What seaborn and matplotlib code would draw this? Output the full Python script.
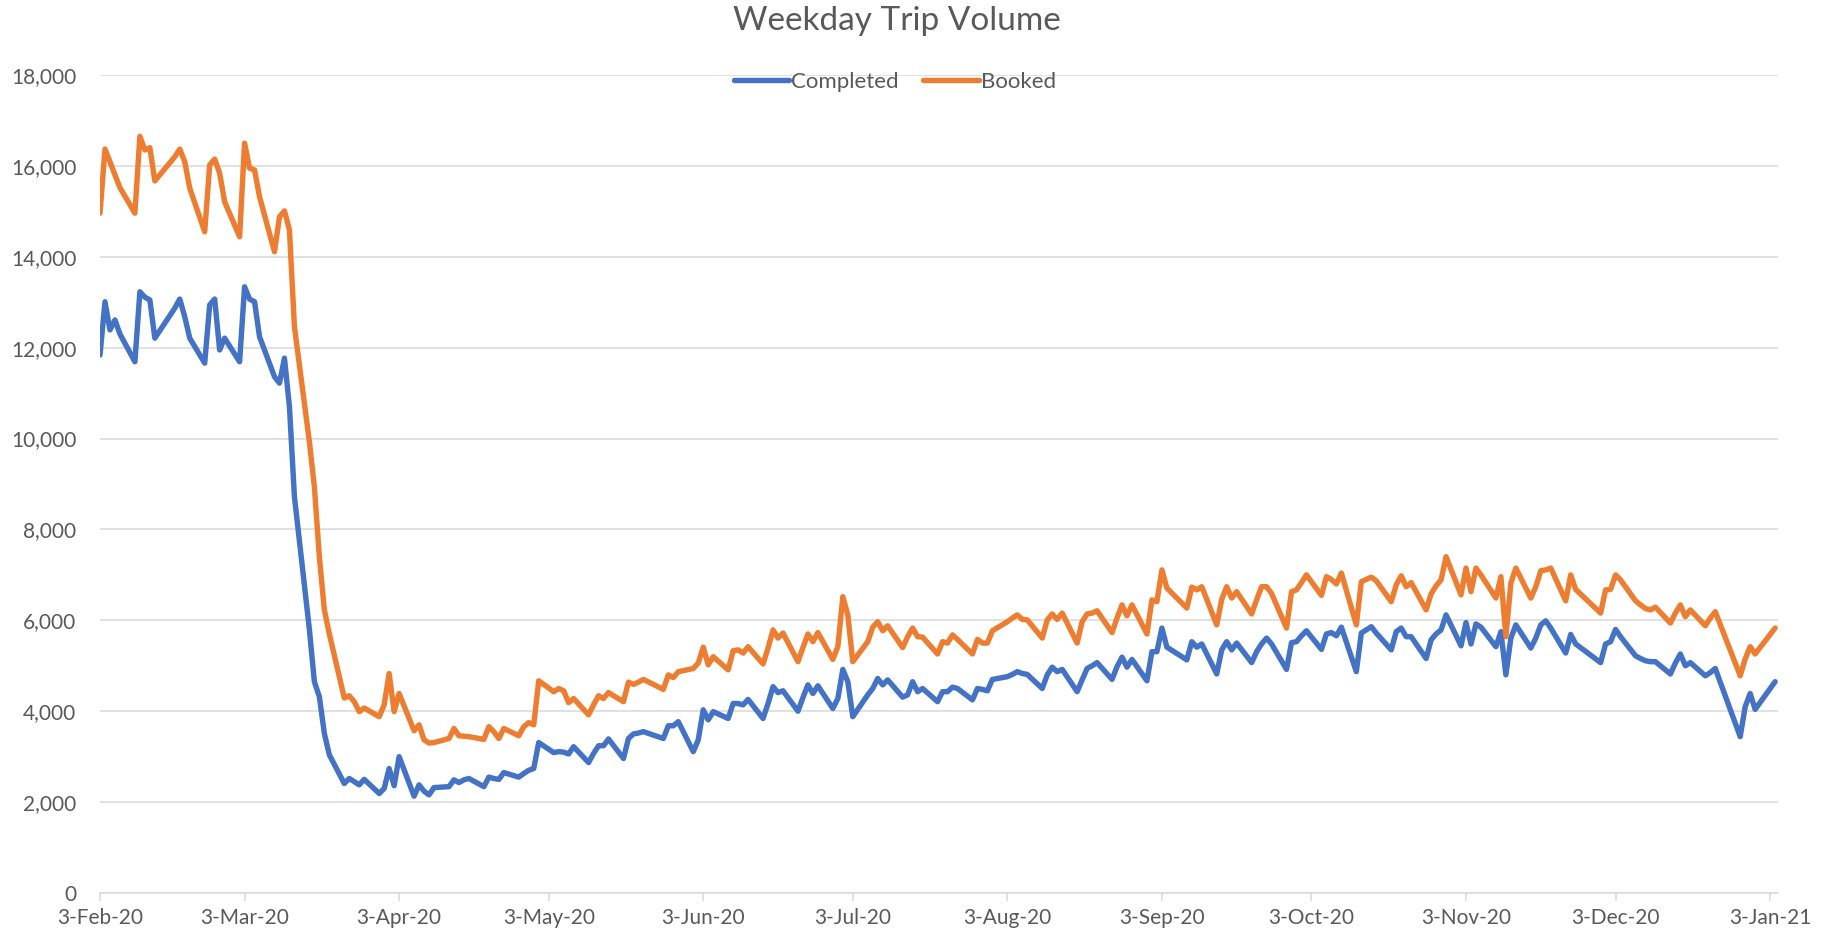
import pandas as pd
import matplotlib
matplotlib.use("Agg")
import matplotlib.pyplot as plt
import matplotlib.dates as mdates
from matplotlib.ticker import FuncFormatter, MultipleLocator
import seaborn as sns

# weekdays from 3-Feb-20 to 4-Jan-21, days with no data left out
holidays = ["2020-02-17", "2020-05-25", "2020-09-07", "2020-11-26", "2020-11-27",
            "2020-12-24", "2020-12-25", "2021-01-01"]
dates = pd.bdate_range("2020-02-03", "2021-01-04").drop(pd.to_datetime(holidays))

# values, one row per week
completed = [
    11840, 13010, 12390, 12610, 12300,   # Feb 3
    11690, 13230, 13110, 13050, 12210,   # Feb 10
    12870, 13070, 12680, 12210,          # Feb 18
    11660, 12940, 13070, 11950, 12210,   # Feb 24
    11690, 13340, 13070, 13010, 12240,   # Mar 2
    11360, 11220, 11770, 10700, 8720,    # Mar 9
    5800, 4650, 4320, 3510, 3040,        # Mar 16
    2410, 2520, 2450, 2380, 2500,        # Mar 23
    2190, 2300, 2740, 2360, 3000,        # Mar 30
    2130, 2380, 2240, 2160, 2320,        # Apr 6
    2340, 2490, 2430, 2490, 2520,        # Apr 13
    2340, 2550, 2520, 2500, 2650,        # Apr 20
    2550, 2630, 2700, 2740, 3310,        # Apr 27
    3090, 3110, 3100, 3060, 3220,        # May 4
    2870, 3070, 3240, 3240, 3390,        # May 11
    2960, 3400, 3500, 3520, 3550,        # May 18
    3400, 3680, 3680, 3770,              # May 26
    3110, 3370, 4030, 3810, 3990,        # Jun 1
    3840, 4170, 4170, 4140, 4260,        # Jun 8
    3840, 4170, 4540, 4410, 4450,        # Jun 15
    4000, 4300, 4580, 4390, 4560,        # Jun 22
    4060, 4280, 4920, 4650, 3880,        # Jun 29
    4360, 4500, 4720, 4580, 4690,        # Jul 6
    4310, 4360, 4650, 4430, 4500,        # Jul 13
    4210, 4430, 4430, 4530, 4500,        # Jul 20
    4250, 4500, 4480, 4450, 4700,        # Jul 27
    4760, 4810, 4870, 4830, 4810,        # Aug 3
    4500, 4800, 4970, 4870, 4920,        # Aug 10
    4430, 4690, 4940, 5000, 5070,        # Aug 17
    4700, 4980, 5190, 4970, 5140,        # Aug 24
    4670, 5310, 5310, 5830, 5410,        # Aug 31
    5130, 5530, 5410, 5480,              # Sep 8
    4820, 5350, 5530, 5350, 5500,        # Sep 14
    5070, 5310, 5480, 5610, 5480,        # Sep 21
    4920, 5510, 5530, 5660, 5770,        # Sep 28
    5360, 5700, 5730, 5660, 5850,        # Oct 5
    4870, 5720, 5790, 5860, 5720,        # Oct 12
    5350, 5750, 5830, 5640, 5640,        # Oct 19
    5160, 5570, 5700, 5790, 6120,        # Oct 26
    5440, 5950, 5480, 5920, 5850,        # Nov 2
    5420, 5750, 4800, 5610, 5900,        # Nov 9
    5390, 5610, 5900, 5990, 5830,        # Nov 16
    5280, 5690, 5480,                    # Nov 23
    5070, 5480, 5530, 5800, 5640,        # Nov 30
    5220, 5160, 5110, 5090, 5090,        # Dec 7
    4820, 5060, 5260, 5000, 5070,        # Dec 14
    4780, 4850, 4940,                    # Dec 21
    3440, 4100, 4390, 4040,              # Dec 28
    4650,                                # Jan 4
]
booked = [
    14960, 16370, 16090, 15800, 15520,   # Feb 3
    14960, 16650, 16350, 16400, 15670,   # Feb 10
    16200, 16370, 16090, 15510,          # Feb 18
    14550, 16020, 16150, 15840, 15210,   # Feb 24
    14440, 16500, 15950, 15910, 15320,   # Mar 2
    14110, 14880, 15010, 14590, 12460,   # Mar 9
    9930, 8940, 7400, 6230, 5700,        # Mar 16
    4290, 4340, 4210, 3990, 4070,        # Mar 23
    3880, 4140, 4830, 3990, 4390,        # Mar 30
    3570, 3700, 3370, 3300, 3310,        # Apr 6
    3400, 3620, 3460, 3450, 3440,        # Apr 13
    3380, 3660, 3550, 3400, 3620,        # Apr 20
    3460, 3660, 3750, 3700, 4670,        # Apr 27
    4430, 4500, 4450, 4190, 4280,        # May 4
    3920, 4140, 4340, 4280, 4410,        # May 11
    4210, 4640, 4590, 4640, 4700,        # May 18
    4480, 4800, 4740, 4870,              # May 26
    4940, 5060, 5410, 5020, 5200,        # Jun 1
    4910, 5330, 5350, 5280, 5420,        # Jun 8
    5040, 5390, 5790, 5610, 5720,        # Jun 15
    5090, 5400, 5700, 5530, 5730,        # Jun 22
    5140, 5420, 6520, 6120, 5090,        # Jun 29
    5530, 5850, 5970, 5770, 5880,        # Jul 6
    5400, 5640, 5830, 5640, 5630,        # Jul 13
    5260, 5530, 5500, 5680, 5580,        # Jul 20
    5260, 5580, 5500, 5500, 5770,        # Jul 27
    5970, 6050, 6120, 6020, 6010,        # Aug 3
    5610, 6010, 6140, 6020, 6160,        # Aug 10
    5500, 5970, 6140, 6160, 6210,        # Aug 17
    5730, 6050, 6340, 6100, 6340,        # Aug 24
    5700, 6450, 6410, 7110, 6710,        # Aug 31
    6270, 6730, 6670, 6740,              # Sep 8
    5900, 6460, 6740, 6490, 6630,        # Sep 14
    6140, 6450, 6740, 6740, 6590,        # Sep 21
    5830, 6630, 6670, 6830, 7000,        # Sep 28
    6550, 6960, 6900, 6800, 7040,        # Oct 5
    5900, 6850, 6900, 6950, 6870,        # Oct 12
    6410, 6780, 6980, 6740, 6830,        # Oct 19
    6230, 6580, 6760, 6890, 7400,        # Oct 26
    6560, 7150, 6630, 7150, 7000,        # Nov 2
    6490, 6960, 5640, 6820, 7150,        # Nov 9
    6490, 6740, 7090, 7110, 7150,        # Nov 16
    6430, 7000, 6680,                    # Nov 23
    6160, 6670, 6680, 7000, 6890,        # Nov 30
    6430, 6340, 6260, 6230, 6290,        # Dec 7
    5940, 6160, 6340, 6080, 6230,        # Dec 14
    5880, 6050, 6190,                    # Dec 21
    4780, 5150, 5420, 5260,              # Dec 28
    5830,                                # Jan 4
]

df = pd.DataFrame({"Date": dates, "Completed": completed, "Booked": booked})
long_df = df.melt(id_vars="Date", var_name="Series", value_name="Trips")

sns.set_theme(style="white")
plt.rcParams["font.family"] = ["Lato", "DejaVu Sans"]

grey_text = "#595959"
grid_col = "#D9D9D9"

fig = plt.figure(figsize=(18.28, 9.39), dpi=100)
ax = fig.add_axes([100 / 1828, 46 / 939, 1678 / 1828, 818 / 939])

sns.lineplot(data=long_df, x="Date", y="Trips", hue="Series",
             hue_order=["Completed", "Booked"],
             palette={"Completed": "#4472C4", "Booked": "#ED7D31"},
             estimator=None, linewidth=3.9, ax=ax)
for ln in ax.lines:
    ln.set_solid_capstyle("round")
    ln.set_solid_joinstyle("round")

# y axis
ax.set_ylim(0, 18000)
ax.yaxis.set_major_locator(MultipleLocator(2000))
ax.yaxis.set_major_formatter(FuncFormatter(lambda v, p: f"{v:,.0f}"))
ax.grid(axis="y", color=grid_col, linewidth=1.1)
ax.set_axisbelow(True)

# x axis
ax.set_xlim(pd.Timestamp("2020-02-03"), pd.Timestamp("2021-01-04 14:00"))
ax.xaxis.set_major_locator(mdates.MonthLocator(bymonthday=3))
ax.xaxis.set_major_formatter(mdates.DateFormatter("%-d-%b-%y"))

for s in ["left", "top", "right"]:
    ax.spines[s].set_visible(False)
ax.spines["bottom"].set_color(grid_col)
ax.spines["bottom"].set_linewidth(1.1)

ax.tick_params(axis="x", direction="out", length=6, width=1.1, color=grid_col,
               labelcolor=grey_text, labelsize=15, pad=5, bottom=True)
ax.tick_params(axis="y", length=0, labelcolor=grey_text, labelsize=15, pad=17)
ax.set_xlabel("")
ax.set_ylabel("")

# legend
handles, labels = ax.get_legend_handles_labels()
ax.legend(handles, labels, loc="center", bbox_to_anchor=(0.4896, 0.9127),
          bbox_transform=fig.transFigure, ncol=2, frameon=False, fontsize=16,
          handlelength=2.5, handletextpad=0.1, columnspacing=1.1,
          labelcolor=grey_text)

fig.text(0.4904, 1 - 21 / 939, "Weekday Trip Volume", ha="center", va="center",
         fontsize=24, color=grey_text)

fig.savefig("out.png", dpi=100)
